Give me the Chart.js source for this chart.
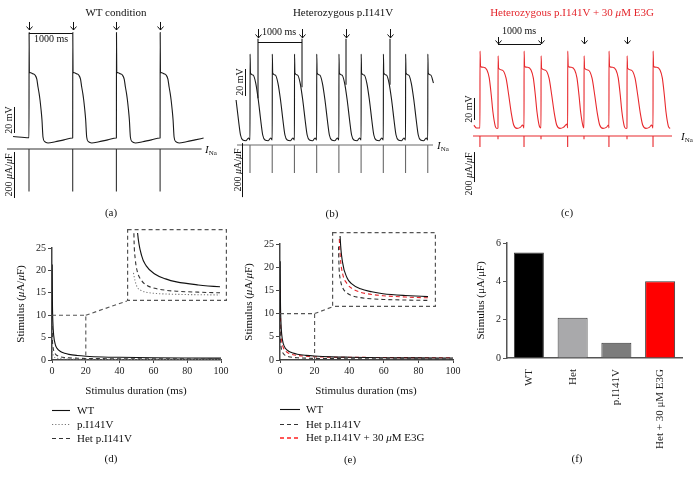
<!DOCTYPE html>
<html>
<head>
<meta charset="utf-8">
<title>Action potentials and strength-duration curves</title>
<script src="https://cdn.jsdelivr.net/npm/chart.js@4.4.1/dist/chart.umd.min.js"></script>
<style>
  html, body { margin: 0; padding: 0; background: #fff; }
  #fig { position: relative; width: 697px; height: 481px; overflow: hidden; background: #fff;
         font-family: "Liberation Serif", "DejaVu Serif", serif; color: #1a1a1a; }
  #fig canvas { position: absolute; z-index: 0; }
  .t { position: absolute; z-index: 2; white-space: nowrap; line-height: 1; color: #111; transform: translate(-50%, -50%); }
  .r { transform: translate(-50%, -50%) rotate(-90deg); }
  .l { position: absolute; z-index: 2; white-space: nowrap; line-height: 1; color: #111; transform: translateY(-50%); font-size: 11px; }
  sub { font-size: 7px; vertical-align: -2px; }
  svg { position: absolute; z-index: 2; overflow: visible; }
</style>
</head>
<body>
<div id="fig">
  <canvas id="cA" width="230" height="200" style="left:0;top:0"></canvas>
  <canvas id="cB" width="230" height="200" style="left:230px;top:0"></canvas>
  <canvas id="cC" width="237" height="200" style="left:460px;top:0"></canvas>
  <canvas id="cD" width="240" height="175" style="left:0;top:225px"></canvas>
  <canvas id="cDi" width="100" height="72" style="left:127px;top:229px"></canvas>
  <canvas id="cE" width="239" height="178" style="left:236px;top:222px"></canvas>
  <canvas id="cEi" width="104" height="75" style="left:332px;top:232px"></canvas>
  <canvas id="cF" width="229" height="225" style="left:468px;top:225px"></canvas>

  <!-- (a) -->
  <div class="t" style="left:116px;top:12px;font-size:11px">WT condition</div>
  <div class="t" style="left:51px;top:39px;font-size:10px">1000 ms</div>
  <div class="t r" style="left:9px;top:120px;font-size:10px">20 mV</div>
  <div class="t r" style="left:9px;top:175px;font-size:10px">200 <i>μ</i>A/<i>μ</i>F</div>
  <div class="l" style="left:205px;top:150px"><i>I</i><sub>Na</sub></div>
  <div class="t" style="left:111px;top:212px;font-size:11px">(a)</div>

  <!-- (b) -->
  <div class="t" style="left:343px;top:12px;font-size:11px">Heterozygous p.I141V</div>
  <div class="t" style="left:279px;top:32px;font-size:10px">1000 ms</div>
  <div class="t r" style="left:240px;top:82px;font-size:10px">20 mV</div>
  <div class="t r" style="left:238px;top:170px;font-size:10px">200 <i>μ</i>A/<i>μ</i>F</div>
  <div class="l" style="left:437px;top:146px"><i>I</i><sub>Na</sub></div>
  <div class="t" style="left:332px;top:213px;font-size:11px">(b)</div>

  <!-- (c) -->
  <div class="t" style="left:572px;top:12px;font-size:11px;color:#e4262c">Heterozygous p.I141V + 30 <i>μ</i>M E3G</div>
  <div class="t" style="left:519px;top:31px;font-size:10px">1000 ms</div>
  <div class="t r" style="left:469px;top:109px;font-size:10px">20 mV</div>
  <div class="t r" style="left:469px;top:174px;font-size:10px">200 <i>μ</i>A/<i>μ</i>F</div>
  <div class="l" style="left:681px;top:137px"><i>I</i><sub>Na</sub></div>
  <div class="t" style="left:567px;top:212px;font-size:11px">(c)</div>

  <!-- (d) -->
  <div class="t r" style="left:20px;top:304px;font-size:11px">Stimulus (<i>μ</i>A/<i>μ</i>F)</div>
  <div class="t" style="left:136px;top:390px;font-size:11px">Stimulus duration (ms)</div>
  <svg style="left:52px;top:410px" width="18" height="1"><line x1="0" y1="0.5" x2="18" y2="0.5" stroke="#111" stroke-width="1.1"/></svg>
  <svg style="left:52px;top:424px" width="18" height="1"><line x1="0" y1="0.5" x2="18" y2="0.5" stroke="#777" stroke-width="1.1" stroke-dasharray="1.2 2"/></svg>
  <svg style="left:52px;top:438px" width="18" height="1"><line x1="0" y1="0.5" x2="18" y2="0.5" stroke="#333" stroke-width="1.1" stroke-dasharray="4 3"/></svg>
  <div class="l" style="left:77px;top:410px">WT</div>
  <div class="l" style="left:77px;top:424px">p.I141V</div>
  <div class="l" style="left:77px;top:438px">Het p.I141V</div>
  <div class="t" style="left:111px;top:458px;font-size:11px">(d)</div>

  <!-- (e) -->
  <div class="t r" style="left:248px;top:302px;font-size:11px">Stimulus (<i>μ</i>A/<i>μ</i>F)</div>
  <div class="t" style="left:366px;top:390px;font-size:11px">Stimulus duration (ms)</div>
  <svg style="left:280px;top:409px" width="20" height="1"><line x1="0" y1="0.5" x2="20" y2="0.5" stroke="#111" stroke-width="1.1"/></svg>
  <svg style="left:280px;top:424px" width="20" height="1"><line x1="0" y1="0.5" x2="20" y2="0.5" stroke="#333" stroke-width="1.1" stroke-dasharray="4 3"/></svg>
  <svg style="left:280px;top:437px" width="20" height="2"><line x1="0" y1="1" x2="20" y2="1" stroke="#ff2020" stroke-width="1.4" stroke-dasharray="4 3"/></svg>
  <div class="l" style="left:306px;top:409px">WT</div>
  <div class="l" style="left:306px;top:424px">Het p.I141V</div>
  <div class="l" style="left:306px;top:437px">Het p.I141V + 30 <i>μ</i>M E3G</div>
  <div class="t" style="left:350px;top:459px;font-size:11px">(e)</div>

  <!-- (f) -->
  <div class="t" style="left:577px;top:458px;font-size:11px">(f)</div>
</div>

<script>
// ---------- panel (a): WT, paced at 1 Hz ----------
const wtBeats = [0, 1000, 2000, 3000];                 // ms
const wtApT = [0, 2, 8, 40, 90, 137, 180, 206, 232, 252, 275, 297, 320, 360, 435, 600, 800, 995];
const wtApV = [-81, 0, -30.5, -31, -31.8, -32.7, -36, -41.9, -47, -51.9, -59, -67.3, -80.4, -84, -85, -84, -82.6, -81.2];
const wtLeadT = [-365];
const wtLeadV = [-80];
const wtINaPeak = [-185, -185, -185, -185];            // uA/uF

// ---------- panel (b): heterozygous p.I141V ----------
const hetBeats = [-505, 0, 505, 1010, 1515, 2020, 2525, 3030, 3535, 4040];
const hetApT = [0, 2, 11, 68, 130, 189, 243, 289, 341, 416, 470];
const hetApV = [-85, -21.3, -35.4, -36.9, -42.8, -55.4, -70.2, -81.3, -85, -85.5, -83.5];
const hetINaPeak = [-104, -104, -104, -104, -104, -104, -104, -104, -104, -104];
const hetStimT = [182, 1182, 2182, 3182];
const hetStimBaseV = [-54, -46, -44, -44];
const hetStimTopV = -10;

// ---------- panel (c): heterozygous p.I141V + 30 uM E3G ----------
const e3gBeats = [-420, 0, 605, 1000, 1620, 2000, 2580, 3000, 3605];
const e3gPaced = [0, 1, 0, 1, 0, 1, 0, 1, 0];
const e3gSpontT = [0, 2, 14, 86, 163, 216, 263, 302, 356, 395, 512];
const e3gSpontV = [-85, -15, -29.1, -29.8, -32.3, -39.5, -55, -70.5, -83.2, -85.5, -85];
const e3gPacedT = [0, 2, 14, 93, 186, 249, 309, 365, 442, 519, 574, 605];
const e3gPacedV = [-85, -19.3, -30.7, -32.3, -39.5, -55, -71.4, -82.3, -85.3, -84.4, -82.3, -81.4];
const e3gLeadT = [-560, -500];
const e3gLeadV = [-82.5, -85];
const e3gINaPeak = [-73, -22, -73, -22, -73, -22, -73, -22, -73];
const e3gStimT = [0, 1000, 2000, 3000];

// ---------- panels (d), (e): strength-duration curves ----------
const durations = [0.1, 0.25, 0.5, 1, 2, 3, 5, 7.5, 10, 15, 20, 30, 40, 60, 80, 100];   // ms
const sdWT   = [21.3, 13.0, 8.6, 5.5, 3.4, 2.6, 1.9, 1.5, 1.25, 1.0, 0.85, 0.68, 0.6, 0.5, 0.45, 0.42];
const sdHet  = [7.6, 4.6, 3.2, 2.1, 1.35, 1.0, 0.72, 0.56, 0.48, 0.4, 0.35, 0.3, 0.28, 0.25, 0.24, 0.23];
const sdI141V = [2.0, 1.7, 1.3, 0.8, 0.52, 0.4, 0.3, 0.25, 0.22, 0.19, 0.17, 0.15, 0.14, 0.13, 0.12, 0.12];
const sdE3G  = [15.2, 9.6, 6.3, 4.0, 2.6, 2.0, 1.45, 1.15, 0.98, 0.8, 0.7, 0.6, 0.58, 0.53, 0.5, 0.48];

// ---------- panel (f): bars ----------
const barLabels = ['WT', 'Het', 'p.I141V', 'Het + 30 μM E3G'];
const barValues = [5.5, 2.1, 0.8, 4.0];
const barColors = ['#000000', '#a9a9ab', '#7c7c7c', '#ff0000'];

Chart.defaults.font.family = "'Liberation Serif', 'DejaVu Serif', serif";
Chart.defaults.color = '#222';

// value range of an axis so that pixel p1 shows v1 and p2 shows v2
function lin(p1, v1, p2, v2, size) {
  const k = (v2 - v1) / (p2 - p1);
  const a = v1 - p1 * k, b = v1 + (size - p1) * k;
  return { min: Math.min(a, b), max: Math.max(a, b), display: false, type: 'linear' };
}

function buildTrace(beats, templates, kinds, tStart, tEnd, leadT, leadV) {
  const pts = leadT.map((t, i) => ({ x: t, y: leadV[i] }));
  beats.forEach((tb, k) => {
    const tpl = templates[kinds ? kinds[k] : 0];
    const next = k + 1 < beats.length ? beats[k + 1] : Infinity;
    tpl.t.forEach((t, i) => {
      const tt = tb + t;
      if (tt >= tStart && tt < next && tt <= tEnd) pts.push({ x: tt, y: tpl.v[i] });
    });
  });
  return pts;
}

function buildCurrent(beats, peaks, tStart, tEnd) {
  const pts = [{ x: tStart, y: 0 }];
  beats.forEach((tb, k) => {
    if (tb < tStart || tb > tEnd) return;
    pts.push({ x: tb, y: 0 }, { x: tb, y: peaks[k] }, { x: tb, y: 0 });
  });
  pts.push({ x: tEnd, y: 0 });
  return pts;
}

function traceOverlay(o) {
  return {
    id: 'overlay',
    afterDatasetsDraw(chart) {
      const { ctx, scales: { x, yV, yI } } = chart;
      ctx.save();
      ctx.strokeStyle = '#111';
      ctx.lineWidth = 1;
      o.arrows.forEach(t => {
        const px = Math.round(x.getPixelForValue(t)) + 0.5;
        const y0 = yV.getPixelForValue(o.arrowV[0]), y1 = yV.getPixelForValue(o.arrowV[1]);
        ctx.beginPath();
        ctx.moveTo(px, y0); ctx.lineTo(px, y1);
        ctx.moveTo(px - 3, y1 - 3.5); ctx.lineTo(px, y1); ctx.lineTo(px + 3, y1 - 3.5);
        ctx.stroke();
      });
      const by = Math.round(yV.getPixelForValue(o.bar[2])) + 0.5;
      ctx.beginPath();
      ctx.moveTo(x.getPixelForValue(o.bar[0]), by);
      ctx.lineTo(x.getPixelForValue(o.bar[1]), by);
      const mx = Math.round(x.getPixelForValue(o.mvBar[0])) + 0.5;
      ctx.moveTo(mx, yV.getPixelForValue(o.mvBar[1]));
      ctx.lineTo(mx, yV.getPixelForValue(o.mvBar[2]));
      const ix = Math.round(x.getPixelForValue(o.iBar[0])) + 0.5;
      ctx.moveTo(ix, yI.getPixelForValue(o.iBar[1]));
      ctx.lineTo(ix, yI.getPixelForValue(o.iBar[2]));
      ctx.stroke();
      ctx.restore();
    }
  };
}

function traceChart(id, datasets, scales, overlay) {
  return new Chart(document.getElementById(id), {
    type: 'scatter',
    data: { datasets },
    options: {
      animation: false, responsive: false, devicePixelRatio: 1, events: [],
      layout: { padding: 0 },
      plugins: { legend: { display: false }, tooltip: { enabled: false } },
      scales: Object.assign({ y: { display: false } }, scales)
    },
    plugins: [overlay]
  });
}

const lineDs = (data, color, axis, smooth, width) => ({
  data, yAxisID: axis, showLine: true, borderColor: color, borderWidth: width || 1.1,
  pointRadius: 0, fill: false, cubicInterpolationMode: smooth ? 'monotone' : 'default', tension: 0
});

// panel (a)
traceChart('cA', [
  lineDs(buildTrace(wtBeats, [{ t: wtApT, v: wtApV }], null, -365, 3995, wtLeadT, wtLeadV), '#1a1a1a', 'yV', true),
  lineDs(buildCurrent(wtBeats, wtINaPeak, -503, 3950), '#333', 'yI', false)
], {
  x: lin(29, 0, 72.7, 1000, 230),
  yV: lin(143, -85, 117, -65, 200),
  yI: lin(149, 0, 195, -200, 200)
}, traceOverlay({
  arrows: wtBeats, arrowV: [8.1, 1.9], bar: [0, 1000, -0.4],
  mvBar: [-343, -77.3, -57.3], iBar: [-343, -13, -213]
}));

// panel (b)
const hetStimDs = hetStimT.map((t, i) =>
  lineDs([{ x: t, y: hetStimBaseV[i] }, { x: t, y: hetStimTopV }], '#1a1a1a', 'yV', false));
traceChart('cB', [
  lineDs(buildTrace(hetBeats, [{ t: hetApT, v: hetApV }], null, -320, 4180, [], []), '#1a1a1a', 'yV', true),
  ...hetStimDs,
  lineDs(buildCurrent(hetBeats, hetINaPeak, -295, 4160), '#6a6a6a', 'yI', false)
], {
  x: lin(20, 0, 64, 1000, 230),
  yV: lin(140, -85, 113, -65, 200),
  yI: lin(145, 0, 199, -200, 200)
}, traceOverlay({
  arrows: hetStimT, arrowV: [-2.8, -9.4], bar: [182, 1182, -12.4],
  mvBar: [-114, -52.4, -32.4], iBar: [-182, 7, -193]
}));

// panel (c)
traceChart('cC', [
  lineDs(buildTrace(e3gBeats, [{ t: e3gSpontT, v: e3gSpontV }, { t: e3gPacedT, v: e3gPacedV }],
    e3gPaced, -560, 4000, e3gLeadT, e3gLeadV), '#e8282c', 'yV', true),
  lineDs(buildCurrent(e3gBeats, e3gINaPeak, -581, 4047), '#e8282c', 'yI', false)
], {
  x: lin(38, 0, 81, 1000, 237),
  yV: lin(128, -85, 106, -65, 200),
  yI: lin(136, 0, 166, -200, 200)
}, traceOverlay({
  arrows: e3gStimT, arrowV: [-2.3, -8.6], bar: [0, 1000, -8.6],
  mvBar: [-558, -77.7, -57.7], iBar: [-558, -107, -307]
}));

// ---------- strength-duration charts ----------
const pts = (xs, ys) => xs.map((x, i) => ({ x, y: ys[i] }));
const tickFont = { size: 10 };

function sdDatasets(list) {
  return list.map(s => ({
    data: pts(durations, s.values), showLine: true, borderColor: s.color, borderWidth: 1.1,
    borderDash: s.dash || [], pointRadius: 0, cubicInterpolationMode: 'monotone', fill: false
  }));
}

function zoomBox(insetLeft, insetBottom) {
  return {
    id: 'zoomBox',
    afterDatasetsDraw(chart) {
      const { ctx, scales: { x, y } } = chart;
      ctx.save();
      ctx.strokeStyle = '#555';
      ctx.lineWidth = 1.1;
      ctx.setLineDash([4, 3]);
      ctx.beginPath();
      ctx.moveTo(x.getPixelForValue(0), y.getPixelForValue(10));
      ctx.lineTo(x.getPixelForValue(20), y.getPixelForValue(10));
      ctx.lineTo(x.getPixelForValue(20), y.getPixelForValue(0));
      ctx.moveTo(x.getPixelForValue(20), y.getPixelForValue(10));
      ctx.lineTo(insetLeft, insetBottom);
      ctx.stroke();
      ctx.restore();
    }
  };
}

function sdChart(id, datasets, pad, yWidth, extra) {
  return new Chart(document.getElementById(id), {
    type: 'scatter',
    data: { datasets },
    options: {
      animation: false, responsive: false, devicePixelRatio: 1, events: [],
      layout: { padding: pad },
      plugins: { legend: { display: false }, tooltip: { enabled: false } },
      scales: {
        x: {
          type: 'linear', min: 0, max: 100,
          afterFit(s) { s.height = 40; },
          ticks: { stepSize: 20, font: tickFont, color: '#222', padding: 2, maxRotation: 0 },
          grid: { drawOnChartArea: false, tickLength: 3, color: '#444' },
          border: { color: '#444', width: 1.5 }
        },
        y: {
          type: 'linear', min: 0, max: 25,
          afterFit(s) { s.width = yWidth; },
          ticks: { stepSize: 5, font: tickFont, color: '#222', padding: 2 },
          grid: { drawOnChartArea: false, tickLength: 4, color: '#444' },
          border: { color: '#444', width: 1.5 }
        }
      }
    },
    plugins: [extra]
  });
}

const insetFrame = {
  id: 'frame',
  afterDraw(chart) {
    const { ctx, width, height } = chart;
    ctx.save();
    ctx.strokeStyle = '#555';
    ctx.lineWidth = 1.2;
    ctx.setLineDash([4, 3]);
    ctx.strokeRect(0.6, 0.6, width - 1.2, height - 1.2);
    ctx.restore();
  }
};

function insetChart(id, datasets, pad, yMax) {
  return new Chart(document.getElementById(id), {
    type: 'scatter',
    data: { datasets },
    options: {
      animation: false, responsive: false, devicePixelRatio: 1, events: [],
      layout: { padding: pad },
      plugins: { legend: { display: false }, tooltip: { enabled: false } },
      scales: {
        x: { type: 'linear', min: 0, max: 20, display: false },
        y: { type: 'linear', min: 0, max: yMax, display: false }
      }
    },
    plugins: [insetFrame]
  });
}

const dSeries = [
  { values: sdI141V, color: '#777', dash: [1.2, 2] },
  { values: sdHet, color: '#333', dash: [4, 3] },
  { values: sdWT, color: '#111' }
];
const eSeries = [
  { values: sdHet, color: '#333', dash: [4, 3] },
  { values: sdWT, color: '#111' },
  { values: sdE3G, color: '#e4262c', dash: [4, 3] }
];

// panel (d): canvas at (0,225); inset box bottom-left at page (127,301)
sdChart('cD', sdDatasets(dSeries), { left: 0, top: 23, right: 19, bottom: 0 }, 52, zoomBox(127, 76));
insetChart('cDi', sdDatasets(dSeries), { left: 6, right: 7, top: 4, bottom: 4 }, 5.3);

// panel (e): canvas at (236,222); inset box bottom-left at page (332,307)
sdChart('cE', sdDatasets(eSeries), { left: 1, top: 22, right: 22, bottom: 0 }, 43, zoomBox(96, 85));
insetChart('cEi', sdDatasets(eSeries), { left: 6, right: 8, top: 4, bottom: 4 }, 9);

// panel (f)
new Chart(document.getElementById('cF'), {
  type: 'bar',
  data: {
    labels: barLabels,
    datasets: [{
      data: barValues, backgroundColor: barColors, borderColor: '#3a3a3a', borderWidth: 1,
      barPercentage: 0.686, categoryPercentage: 1
    }]
  },
  options: {
    animation: false, responsive: false, devicePixelRatio: 1, events: [],
    layout: { padding: { left: 3, top: 18, right: 15, bottom: 0 } },
    plugins: { legend: { display: false }, tooltip: { enabled: false } },
    scales: {
      x: {
        afterFit(s) { s.height = 92; },
        ticks: { font: { size: 11 }, color: '#222', maxRotation: 90, minRotation: 90, padding: 3 },
        grid: { display: false },
        border: { color: '#555', width: 1.5 }
      },
      y: {
        min: 0, max: 6,
        afterFit(s) { s.width = 36; },
        title: { display: true, text: 'Stimulus (μA/μF)', color: '#111', font: { size: 11 }, padding: { top: 4, bottom: 4 } },
        ticks: { stepSize: 2, font: tickFont, color: '#222', padding: 2 },
        grid: { drawOnChartArea: false, tickLength: 4, color: '#555' },
        border: { color: '#555', width: 1.5 }
      }
    }
  }
});
</script>
</body>
</html>
